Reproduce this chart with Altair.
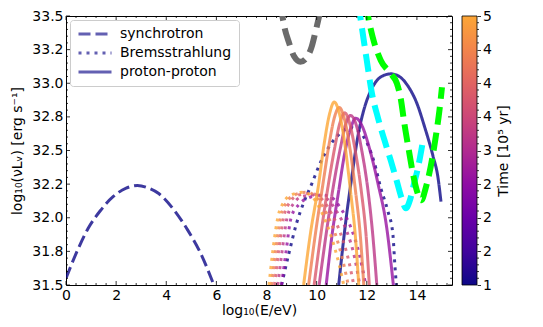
import altair as alt
import pandas as pd

# ---------------- data ----------------
x_domain = [0, 15.4]
y_domain = [31.5, 33.5]

process_names = ["synchrotron", "Bremsstrahlung", "proton-proton"]

# synchrotron, t = 1 (the only one inside the frame)
sync_t1_x = [0.0, 0.44, 0.88, 1.36, 1.9, 2.4, 2.85, 3.3, 3.7, 4.3, 4.85, 5.36, 5.9]
sync_t1_y = [31.55, 31.75, 31.92, 32.05, 32.16, 32.22, 32.24, 32.22, 32.18, 32.06, 31.91, 31.74, 31.5]

# Bremsstrahlung
brems_t1_x = [8.6, 8.9, 9.2, 9.5, 9.8, 10.15, 10.5, 10.95, 11.35, 11.7, 12.05, 12.3, 12.56, 12.84, 13.04, 13.12, 13.18]
brems_t1_y = [31.5, 31.74, 31.96, 32.12, 32.25, 32.41, 32.53, 32.63, 32.67, 32.64, 32.54, 32.41, 32.22, 32.05, 31.88, 31.65, 31.5]
brems_t26_x = [8.6, 8.78, 8.98, 9.3, 9.7, 10.2, 10.6, 10.96, 11.36, 11.7, 11.96]
brems_t26_y = [31.5, 31.75, 32.0, 32.1, 32.15, 32.17, 32.15, 32.07, 31.93, 31.73, 31.5]
brems_t32_x = [8.45, 8.62, 8.82, 9.1, 9.45, 9.98, 10.42, 10.82, 11.2, 11.52, 11.72]
brems_t32_y = [31.5, 31.75, 32.0, 32.11, 32.16, 32.17, 32.14, 32.04, 31.9, 31.7, 31.5]
brems_t38_x = [8.32, 8.48, 8.68, 8.95, 9.28, 9.78, 10.2, 10.6, 10.96, 11.28, 11.48]
brems_t38_y = [31.5, 31.75, 32.0, 32.12, 32.17, 32.18, 32.14, 32.03, 31.88, 31.68, 31.5]
brems_t44_x = [8.2, 8.36, 8.56, 8.82, 9.12, 9.6, 10.0, 10.4, 10.76, 11.06, 11.26]
brems_t44_y = [31.5, 31.75, 32.0, 32.12, 32.17, 32.19, 32.15, 32.03, 31.87, 31.67, 31.5]
brems_t5_x = [8.1, 8.25, 8.45, 8.7, 9.0, 9.45, 9.85, 10.25, 10.6, 10.9, 11.08]
brems_t5_y = [31.5, 31.75, 32.0, 32.12, 32.17, 32.19, 32.15, 32.02, 31.85, 31.65, 31.5]

# proton-proton
pp_t1_x = [10.88, 11.16, 11.4, 11.64, 11.88, 12.1, 12.4, 12.7, 12.96, 13.3, 13.64, 14.0, 14.3, 14.64, 14.84, 14.96]
pp_t1_y = [31.5, 31.97, 32.3, 32.6, 32.8, 32.92, 33.02, 33.06, 33.07, 33.05, 32.98, 32.85, 32.68, 32.46, 32.3, 32.12]
pp_t26_x = [10.38, 10.62, 10.88, 11.12, 11.35, 11.56, 11.82, 12.1, 12.44, 12.8, 13.06]
pp_t26_y = [31.5, 31.88, 32.2, 32.48, 32.66, 32.74, 32.68, 32.52, 32.26, 31.92, 31.5]
pp_t32_x = [10.1, 10.38, 10.68, 10.95, 11.15, 11.35, 11.58, 11.8, 12.05, 12.25, 12.4]
pp_t32_y = [31.5, 31.88, 32.25, 32.52, 32.69, 32.76, 32.69, 32.5, 32.2, 31.85, 31.5]
pp_t38_x = [9.9, 10.17, 10.47, 10.72, 10.92, 11.12, 11.32, 11.52, 11.78, 11.98, 12.1]
pp_t38_y = [31.5, 31.88, 32.25, 32.52, 32.7, 32.78, 32.7, 32.52, 32.2, 31.85, 31.5]
pp_t44_x = [9.68, 9.95, 10.25, 10.5, 10.7, 10.9, 11.1, 11.3, 11.55, 11.75, 11.88]
pp_t44_y = [31.5, 31.88, 32.25, 32.55, 32.74, 32.82, 32.74, 32.55, 32.2, 31.85, 31.5]
pp_t5_x = [9.48, 9.75, 10.08, 10.3, 10.5, 10.7, 10.9, 11.1, 11.35, 11.55, 11.68]
pp_t5_y = [31.5, 31.88, 32.25, 32.55, 32.76, 32.86, 32.78, 32.58, 32.2, 31.85, 31.5]

# thick dashed reference curves
gray_x = [8.55, 8.7, 8.9, 9.1, 9.35, 9.6, 9.8, 9.95, 10.1, 10.2]
gray_y = [33.6, 33.43, 33.3, 33.2, 33.16, 33.19, 33.27, 33.38, 33.5, 33.6]
cyan_x = [11.65, 11.8, 12.0, 12.2, 12.45, 12.7, 12.95, 13.2, 13.4, 13.56, 13.72, 13.88, 14.04, 14.24]
cyan_y = [33.6, 33.42, 33.17, 32.93, 32.74, 32.58, 32.43, 32.27, 32.14, 32.07, 32.13, 32.25, 32.37, 32.57]
green_x = [11.95, 12.08, 12.24, 12.56, 12.96, 13.2, 13.36, 13.5, 13.68, 13.85, 14.0, 14.18, 14.35, 14.55, 14.75, 14.9, 15.0]
green_y = [33.6, 33.47, 33.34, 33.17, 33.07, 33.0, 32.88, 32.7, 32.5, 32.32, 32.2, 32.13, 32.22, 32.38, 32.6, 32.8, 32.97]

# axis ticks / labels
x_major = [0, 2, 4, 6, 8, 10, 12, 14]
y_major = [31.5, 31.75, 32.0, 32.25, 32.5, 32.75, 33.0, 33.25, 33.5]
y_labels = ["31.5", "31.8", "32.0", "32.2", "32.5", "32.8", "33.0", "33.2", "33.5"]
x_minor = [round(0.4 * i, 2) for i in range(39) if (i % 5) != 0]
y_minor = [round(31.5 + 0.05 * i, 2) for i in range(41) if (i % 5) != 0]
cb_major = [1, 1.5, 2, 2.5, 3, 3.5, 4, 4.5, 5]
cb_labels = ["1", "2", "2", "2", "3", "4", "4", "4", "5"]
cb_minor = [round(1 + 0.1 * i, 2) for i in range(41) if (i % 5) != 0]

plasma_stops = ["#0d0887", "#41049d", "#6a00a8", "#8f0da4", "#b12a90",
                "#cc4778", "#e16462", "#f2844b", "#fca636"]

# ---------------- build table ----------------
rows = []


def add(curve, process, t, xs, ys):
    for i, (x, y) in enumerate(zip(xs, ys)):
        rows.append({"curve": curve, "process": process, "time": t, "i": i, "x": x, "y": y})


add("s1", "synchrotron", 1.0, sync_t1_x, sync_t1_y)
add("b1", "Bremsstrahlung", 1.0, brems_t1_x, brems_t1_y)
add("p1", "proton-proton", 1.0, pp_t1_x, pp_t1_y)
add("b26", "Bremsstrahlung", 2.6, brems_t26_x, brems_t26_y)
add("p26", "proton-proton", 2.6, pp_t26_x, pp_t26_y)
add("b32", "Bremsstrahlung", 3.2, brems_t32_x, brems_t32_y)
add("p32", "proton-proton", 3.2, pp_t32_x, pp_t32_y)
add("b38", "Bremsstrahlung", 3.8, brems_t38_x, brems_t38_y)
add("p38", "proton-proton", 3.8, pp_t38_x, pp_t38_y)
add("b44", "Bremsstrahlung", 4.4, brems_t44_x, brems_t44_y)
add("p44", "proton-proton", 4.4, pp_t44_x, pp_t44_y)
add("b5", "Bremsstrahlung", 5.0, brems_t5_x, brems_t5_y)
add("p5", "proton-proton", 5.0, pp_t5_x, pp_t5_y)
df = pd.DataFrame(rows)

W, H = 386, 269
FONT = "DejaVu Sans"
FS = 14

xs = alt.Scale(domain=x_domain, nice=False, zero=False)
ys = alt.Scale(domain=y_domain, nice=False, zero=False)


def label_expr(vals, labs):
    e = ""
    for v, l in zip(vals, labs):
        e += f"abs(datum.value - {v}) < 1e-6 ? '{l}' : "
    return e + "''"


x_axis = alt.Axis(values=x_major, title="log₁₀(E/eV)", ticks=False, tickSize=0, domain=False,
                  grid=False, labelFlush=False, labelOverlap=False, labelPadding=3,
                  labelFontSize=FS, titleFontSize=FS, titlePadding=1)
y_axis = alt.Axis(values=y_major, labelExpr=label_expr(y_major, y_labels),
                  title="log₁₀(νLᵥ) [erg s⁻¹]", ticks=False, tickSize=0, domain=False,
                  grid=False, labelFlush=False, labelOverlap=False, labelPadding=3,
                  labelFontSize=FS, titleFontSize=FS, titlePadding=7)

lines = alt.Chart(df).mark_line(clip=True, strokeWidth=3, opacity=0.8, strokeCap="butt",
                                interpolate="monotone").encode(
    x=alt.X("x:Q", scale=xs, axis=x_axis),
    y=alt.Y("y:Q", scale=ys, axis=y_axis),
    color=alt.Color("time:Q", scale=alt.Scale(scheme=alt.SchemeParams(name="plasma", extent=[0, 0.8]),
                                              domain=[1, 5]), legend=None),
    strokeDash=alt.StrokeDash(
        "process:N",
        scale=alt.Scale(domain=process_names, range=[[12, 5], [3, 5], [1, 0]]),
        legend=alt.Legend(title=None, orient="none", legendX=4, legendY=4,
                          symbolType="M-1,0H5", symbolSize=121, symbolStrokeWidth=3,
                          symbolStrokeColor="#3d399f", labelFont=FONT, labelFontSize=FS,
                          labelOffset=29, rowPadding=5, padding=7,
                          fillColor="rgba(255,255,255,0.8)", strokeColor="#cccccc",
                          cornerRadius=3, labelLimit=300),
    ),
    detail="curve:N",
    order="i:Q",
)


def ref_line(xv, yv, color):
    d = pd.DataFrame({"x": xv, "y": yv, "i": list(range(len(xv)))})
    return alt.Chart(d).mark_line(clip=True, strokeWidth=6, color=color, strokeDash=[18, 8],
                                  strokeCap="butt", interpolate="monotone").encode(
        x=alt.X("x:Q", scale=xs, axis=x_axis), y=alt.Y("y:Q", scale=ys, axis=y_axis), order="i:Q")


gray = ref_line(gray_x, gray_y, "#6b6b6b")
cyan = ref_line(cyan_x, cyan_y, "#00ffff")
green = ref_line(green_x, green_y, "#00ff00")


def xticks(vals, length):
    d = pd.DataFrame({"v": vals})
    base = alt.Chart(d).mark_rule(color="black", strokeWidth=0.8)
    bot = base.encode(x=alt.X("v:Q", scale=xs, axis=x_axis), y=alt.value(H), y2=alt.value(H - length))
    top = base.encode(x=alt.X("v:Q", scale=xs, axis=x_axis), y=alt.value(0), y2=alt.value(length))
    return [bot, top]


def yticks(vals, length):
    d = pd.DataFrame({"v": vals})
    base = alt.Chart(d).mark_rule(color="black", strokeWidth=0.8)
    left = base.encode(y=alt.Y("v:Q", scale=ys, axis=y_axis), x=alt.value(0), x2=alt.value(length))
    right = base.encode(y=alt.Y("v:Q", scale=ys, axis=y_axis), x=alt.value(W), x2=alt.value(W - length))
    return [left, right]


tick_layers = xticks(x_major, 4) + xticks(x_minor, 2) + yticks(y_major, 4) + yticks(y_minor, 2)

main = alt.layer(lines, gray, cyan, green, *tick_layers)

# ---------------- colorbar ----------------
cbs = alt.Scale(domain=[1, 5], nice=False, zero=False)
cb_axis = alt.Axis(orient="right", offset=25, values=cb_major,
                   labelExpr=label_expr(cb_major, cb_labels), domain=False,
                   tickSize=3.5, tickColor="black", tickWidth=0.8, grid=False,
                   labelPadding=2, labelFontSize=FS, labelFlush=False, labelOverlap=False,
                   title="Time [10⁵ yr]", titleFontSize=FS, titleAngle=270,
                   titleBaseline="top", titlePadding=5)
n = len(plasma_stops)
gradient = {"gradient": "linear", "x1": 0, "y1": 1, "x2": 0, "y2": 0,
            "stops": [{"offset": i / (n - 1), "color": c} for i, c in enumerate(plasma_stops)]}
cb_df = pd.DataFrame({"lo": [1], "hi": [5]})
cb_rect = alt.Chart(cb_df).mark_rect(fill=gradient, stroke="black", strokeWidth=0.8).encode(
    x=alt.value(W + 10), x2=alt.value(W + 25),
    y=alt.Y("lo:Q", scale=cbs, axis=cb_axis),
    y2="hi:Q",
)
cb_minor_rules = alt.Chart(pd.DataFrame({"t": cb_minor})).mark_rule(color="black", strokeWidth=0.8).encode(
    y=alt.Y("t:Q", scale=cbs, axis=cb_axis), x=alt.value(W + 25), x2=alt.value(W + 27))
cbar = alt.layer(cb_rect, cb_minor_rules)

chart = alt.layer(main, cbar).resolve_scale(y="independent").properties(
    width=W, height=H,
    padding={"left": 58, "top": 8, "right": 80, "bottom": 40},
    autosize=alt.AutoSizeParams(type="none"),
).configure(font=FONT).configure_view(stroke="black", strokeWidth=1).configure_axis(
    labelColor="black", titleColor="black", titleFontWeight="normal", labelFont=FONT, titleFont=FONT)

chart.save("out.html", embed_options={"renderer": "svg", "actions": False})
